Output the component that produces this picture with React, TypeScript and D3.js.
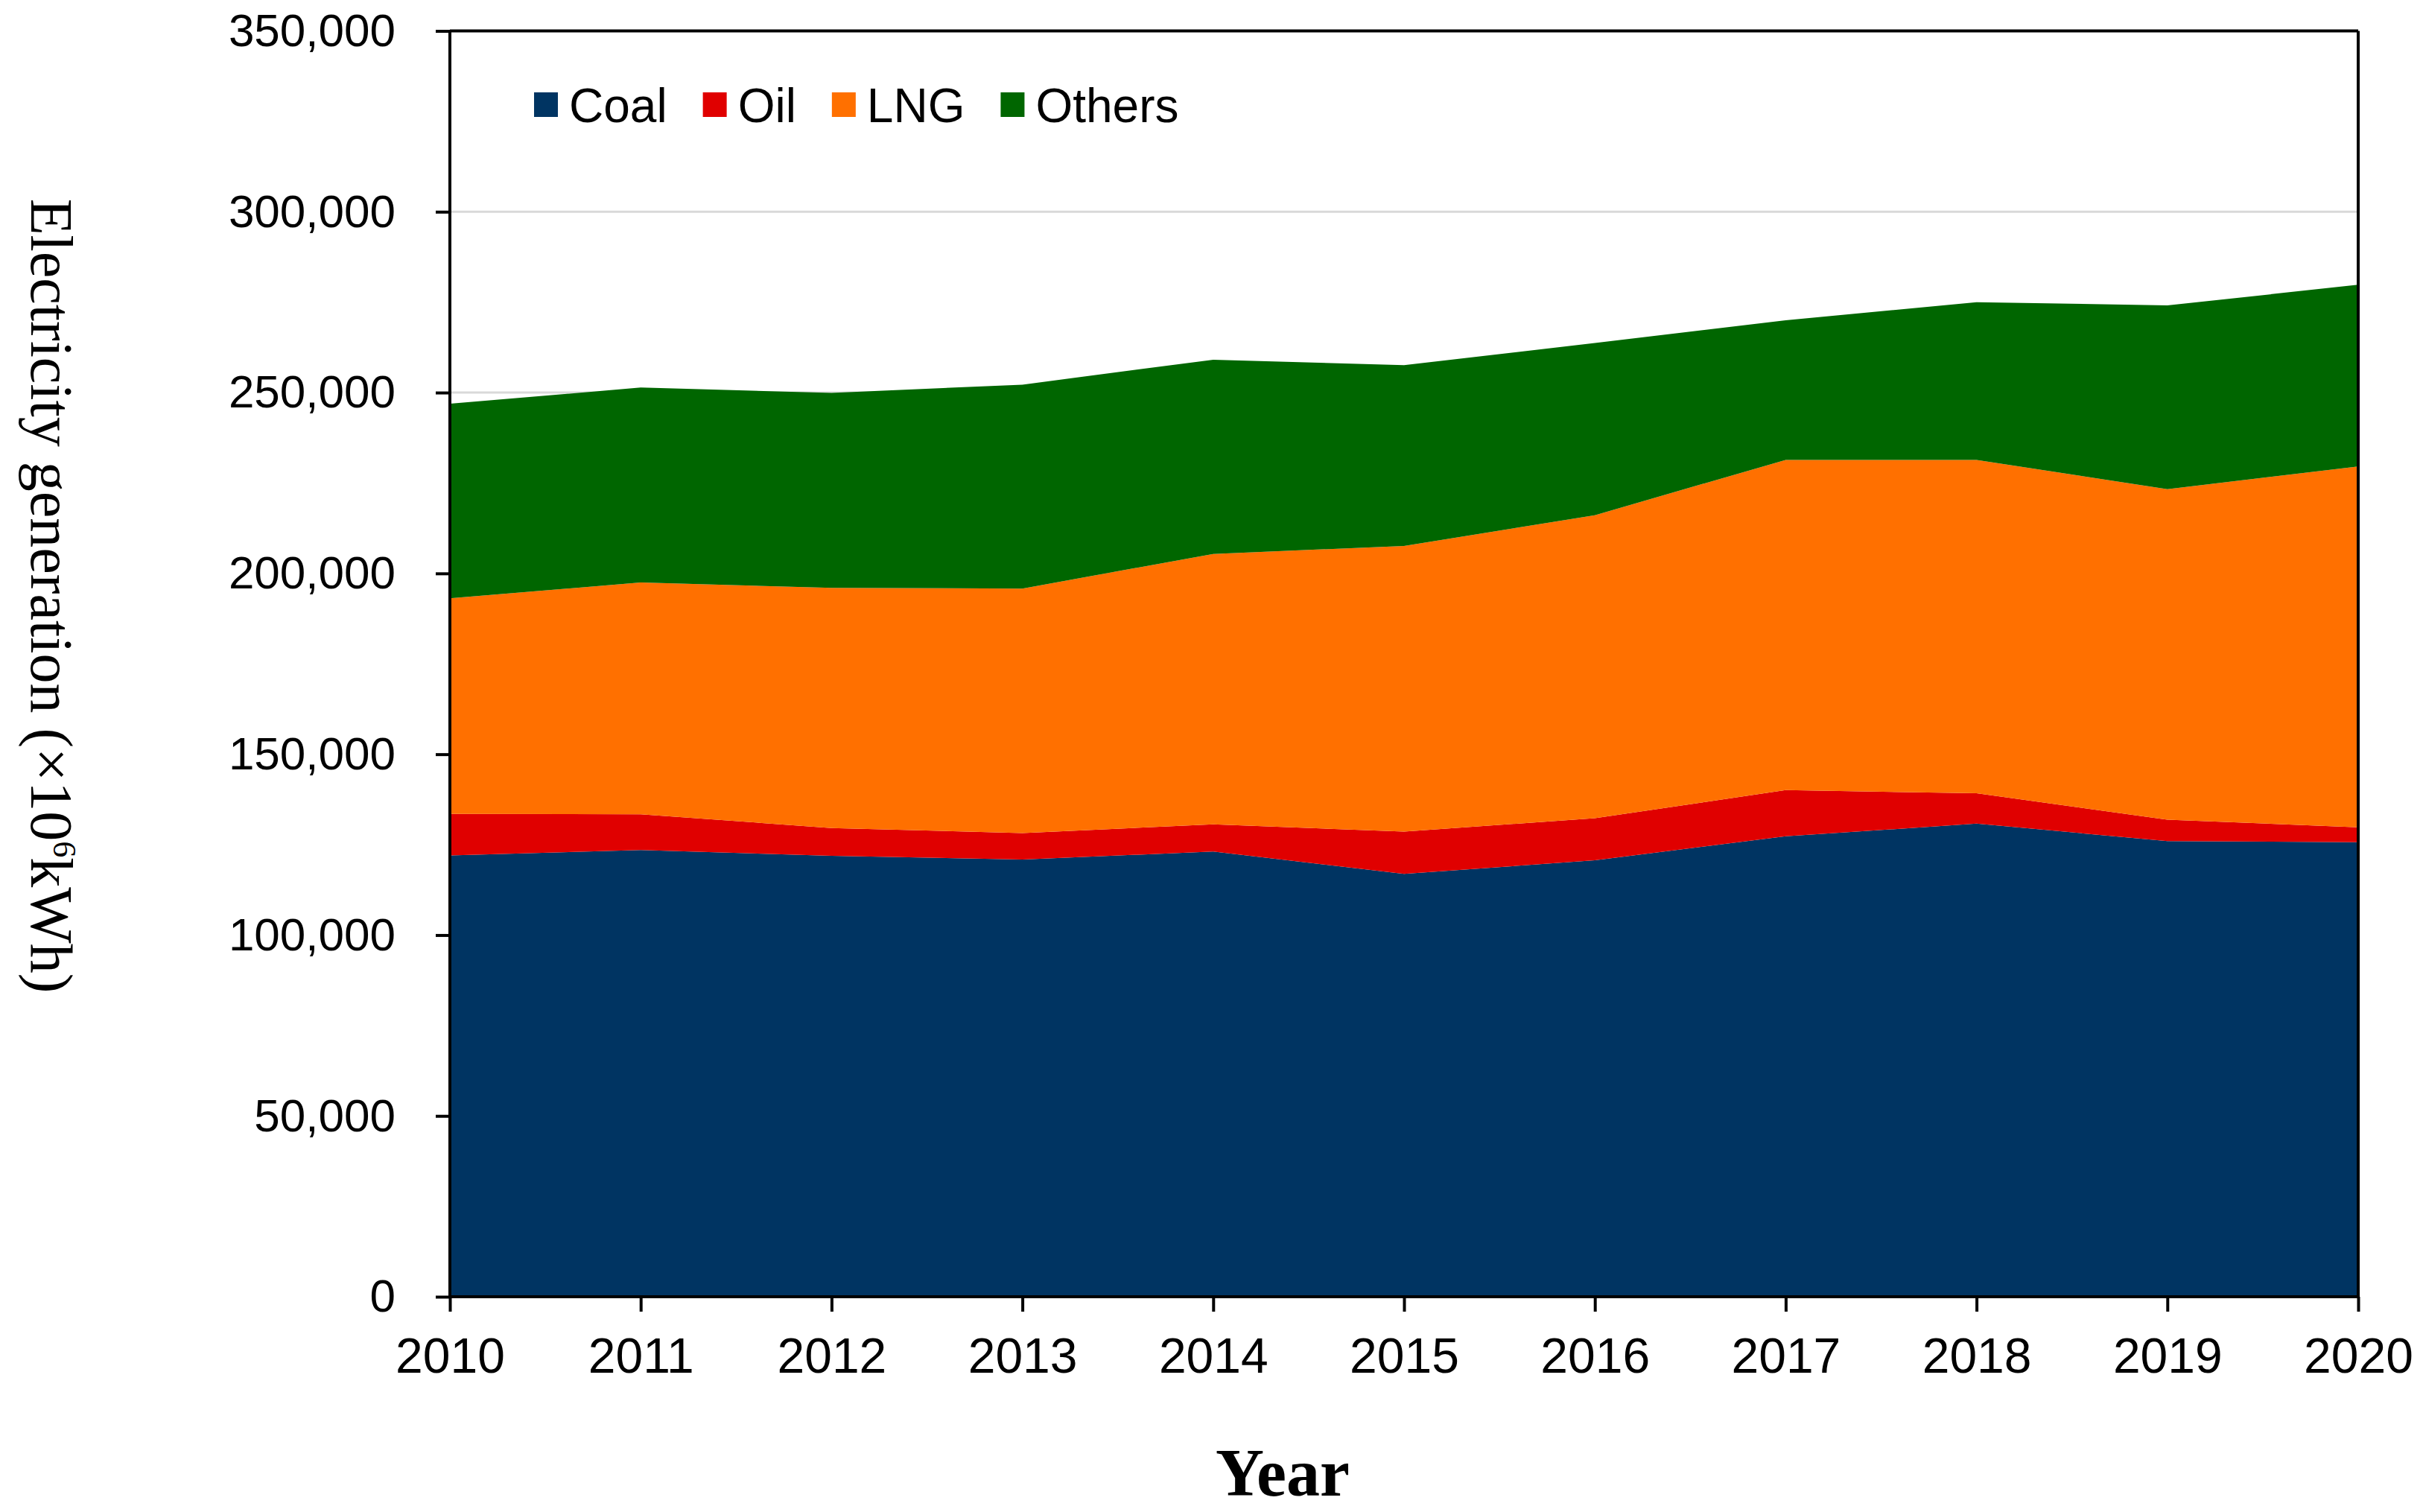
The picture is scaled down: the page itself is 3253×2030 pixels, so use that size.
import { useEffect, useRef } from "react"
import * as d3 from "d3"

const years = [2010, 2011, 2012, 2013, 2014, 2015, 2016, 2017, 2018, 2019, 2020]
const coal = [122000, 123500, 121900, 120900, 123100, 116900, 120700, 127300, 130800, 126000, 125700]
const oil = [11500, 9900, 7700, 7300, 7500, 11700, 11600, 12800, 8400, 5900, 4100]
const lng = [59600, 64100, 66400, 67600, 74800, 79000, 83800, 91300, 92200, 91400, 99800]
const others = [53800, 53900, 53900, 56400, 53700, 50000, 47600, 38600, 43600, 50800, 50200]

const seriesNames = ["Coal", "Oil", "LNG", "Others"]
const seriesColors = ["#003462", "#E00000", "#FF7000", "#006600"]
const yTicks = [0, 50000, 100000, 150000, 200000, 250000, 300000, 350000]

export default function App() {
  const svgRef = useRef<SVGSVGElement>(null)

  useEffect(() => {
    if (!svgRef.current) return

    const width = 3253
    const height = 2030
    const margin = { top: 41.5, right: 87, bottom: 289, left: 604 }
    const innerW = width - margin.left - margin.right
    const innerH = height - margin.top - margin.bottom
    const sans = "'Liberation Sans', Arial, sans-serif"
    const serif = "'Liberation Serif', 'Times New Roman', serif"

    d3.select(svgRef.current).selectAll("*").remove()

    const svg = d3
      .select(svgRef.current)
      .attr("width", width)
      .attr("height", height)

    const g = svg
      .append("g")
      .attr("transform", `translate(${margin.left},${margin.top})`)

    const x = d3
      .scaleLinear()
      .domain([years[0], years[years.length - 1]])
      .range([0, innerW])

    const y = d3.scaleLinear().domain([0, 350000]).range([innerH, 0])

    // gridlines
    g.append("g")
      .selectAll("line")
      .data(yTicks.slice(1, -1))
      .join("line")
      .attr("x1", 0)
      .attr("x2", innerW)
      .attr("y1", (d) => y(d))
      .attr("y2", (d) => y(d))
      .attr("stroke", "#D9D9D9")
      .attr("stroke-width", 3)

    // stacked areas
    const data = years.map((yr, i) => ({
      year: yr,
      Coal: coal[i],
      Oil: oil[i],
      LNG: lng[i],
      Others: others[i],
    }))
    const stacked = d3.stack<any>().keys(seriesNames)(data)
    const area = d3
      .area<any>()
      .x((d) => x(d.data.year))
      .y0((d) => y(d[0]))
      .y1((d) => y(d[1]))

    g.append("g")
      .selectAll("path")
      .data(stacked)
      .join("path")
      .attr("d", (d) => area(d) as string)
      .attr("fill", (_d, i) => seriesColors[i])

    // frame top / right
    g.append("line")
      .attr("x1", 0)
      .attr("x2", innerW)
      .attr("y1", 0)
      .attr("y2", 0)
      .attr("stroke", "#000")
      .attr("stroke-width", 4)
    g.append("line")
      .attr("x1", innerW)
      .attr("x2", innerW)
      .attr("y1", 0)
      .attr("y2", innerH)
      .attr("stroke", "#000")
      .attr("stroke-width", 4)

    // Y axis
    const yAxis = g
      .append("g")
      .call(
        d3
          .axisLeft(y)
          .tickValues(yTicks)
          .tickSize(19)
          .tickPadding(54)
          .tickFormat((d) => d3.format(",")(d as number))
      )
    yAxis.select(".domain").attr("stroke-width", 4).attr("d", `M0,0V${innerH}`)
    yAxis.selectAll(".tick line").attr("stroke-width", 4)
    yAxis
      .selectAll(".tick text")
      .attr("font-family", sans)
      .attr("font-size", 62)
      .attr("fill", "#000")

    // X axis
    const xAxis = g
      .append("g")
      .attr("transform", `translate(0,${innerH})`)
      .call(
        d3
          .axisBottom(x)
          .tickValues(years)
          .tickSize(20)
          .tickFormat((d) => String(d))
      )
    xAxis.select(".domain").attr("stroke-width", 4).attr("d", `M0,0H${innerW}`)
    xAxis.selectAll(".tick line").attr("stroke-width", 4)
    xAxis
      .selectAll(".tick text")
      .attr("dy", null)
      .attr("y", 102)
      .attr("font-family", sans)
      .attr("font-size", 66)
      .attr("fill", "#000")

    // legend
    const legend = svg.append("g")
    let lx = 717
    seriesNames.forEach((name, i) => {
      legend
        .append("rect")
        .attr("x", lx)
        .attr("y", 124)
        .attr("width", 32)
        .attr("height", 33)
        .attr("fill", seriesColors[i])
      const t = legend
        .append("text")
        .attr("x", lx + 47)
        .attr("y", 164)
        .attr("font-family", sans)
        .attr("font-size", 64)
        .attr("fill", "#000")
        .text(name)
      const w = (t.node() as SVGTextElement).getComputedTextLength()
      lx = lx + 47 + w + 48
    })

    // axis titles
    const yTitle = svg
      .append("text")
      .attr("transform", "translate(42,800) rotate(90)")
      .attr("text-anchor", "middle")
      .attr("font-family", serif)
      .attr("font-size", 80)
      .attr("fill", "#000")
    yTitle.append("tspan").text("Electricity generation (×10")
    yTitle.append("tspan").attr("font-size", 44).attr("dy", -30).text("6")
    yTitle.append("tspan").attr("dy", 30).text("kWh)")

    svg
      .append("text")
      .attr("x", 1722)
      .attr("y", 2008)
      .attr("text-anchor", "middle")
      .attr("font-family", serif)
      .attr("font-weight", "bold")
      .attr("font-size", 90)
      .attr("fill", "#000")
      .text("Year")
  }, [])

  return (
    <svg
      ref={svgRef}
      style={{ position: "absolute", left: 0, top: 0, display: "block", background: "#fff" }}
    />
  )
}
